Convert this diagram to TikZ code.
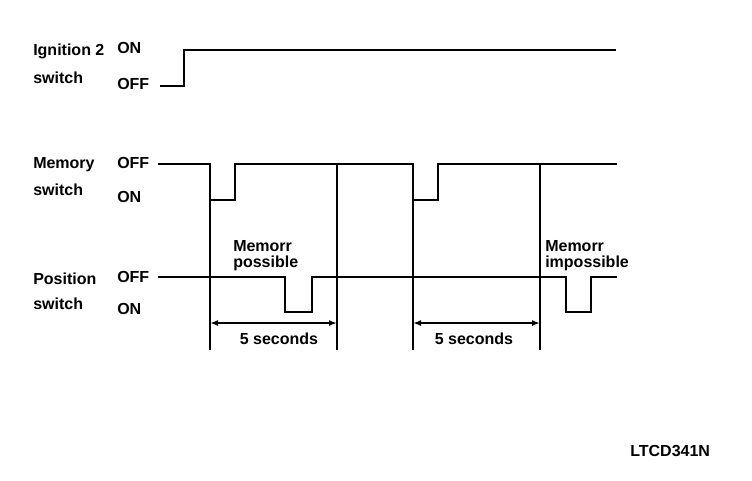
\documentclass[tikz,border=0pt]{standalone}
\usepackage{fontspec}
\setmainfont{Liberation Sans}
\usetikzlibrary{arrows.meta}
\begin{document}
\begin{tikzpicture}[x=0.75pt,y=-0.75pt,
  lbl/.style={anchor=west,inner sep=0pt,font=\fontsize{12}{12}\selectfont\bfseries},
  note/.style={anchor=west,inner sep=0pt,align=left,font=\fontsize{12}{12}\selectfont\bfseries},
  mid/.style={inner sep=0pt,font=\fontsize{12}{12}\selectfont\bfseries},
  sig/.style={line width=1.5pt,line join=miter},
  guide/.style={line width=0.9pt},
  dim/.style={line width=1.4pt,{Latex[length=6pt,width=4.5pt]}-{Latex[length=6pt,width=4.5pt]}}]
\useasboundingbox (0,0) rectangle (752,480);
% left labels
\node[lbl] (ign) at (33,51) {Ignition 2};
\node[lbl] (ignsw) at (33,78) {switch};
\node[lbl] (ignon) at (117,48) {ON};
\node[lbl] (ignoff) at (117,84) {OFF};
\node[lbl] (mem) at (33,165) {Memory};
\node[lbl] (memsw) at (33,190) {switch};
\node[lbl] (memoff) at (117,163) {OFF};
\node[lbl] (memon) at (117,197) {ON};
\node[lbl] (pos) at (33,279) {Position};
\node[lbl] (possw) at (33,304) {switch};
\node[lbl] (posoff) at (117,277) {OFF};
\node[lbl] (poson) at (117,309) {ON};
% notes
\node[note] (n1) at (233,256) {Memorr\\possible};
\node[note] (n2) at (545,256) {Memorr\\impossible};
\node[mid] (t1) at (279,339) {5 seconds};
\node[mid] (t2) at (474,339) {5 seconds};
\node[lbl] (code) at (630,451) {LTCD341N};
% guide coordinates
\coordinate (g1t) at (210,200); \coordinate (g1b) at (210,350);
\coordinate (g2t) at (337,164); \coordinate (g2b) at (337,350);
\coordinate (g3t) at (413,200); \coordinate (g3b) at (413,350);
\coordinate (g4t) at (540,164); \coordinate (g4b) at (540,350);
\coordinate (a1) at (210,323); \coordinate (a2) at (337,323);
\coordinate (a3) at (413,323); \coordinate (a4) at (540,323);
% signals
\draw[sig] (160,86) -- (184,86) -- (184,50) -- (616,50);
\draw[sig] (158,164) -- (210,164) -- (210,200) -- (235,200) -- (235,164) -- (413,164) -- (413,200) -- (438,200) -- (438,164) -- (617,164);
\draw[sig] (158,277) -- (285,277) -- (285,312) -- (312,312) -- (312,277) -- (566,277) -- (566,312) -- (591,312) -- (591,277) -- (617,277);
% guides
\draw[guide] (g1t) -- (g1b);
\draw[guide] (g2t) -- (g2b);
\draw[guide] (g3t) -- (g3b);
\draw[guide] (g4t) -- (g4b);
% dimension arrows
\draw[dim] (a1) -- (a2);
\draw[dim] (a3) -- (a4);
\end{tikzpicture}
\end{document}
